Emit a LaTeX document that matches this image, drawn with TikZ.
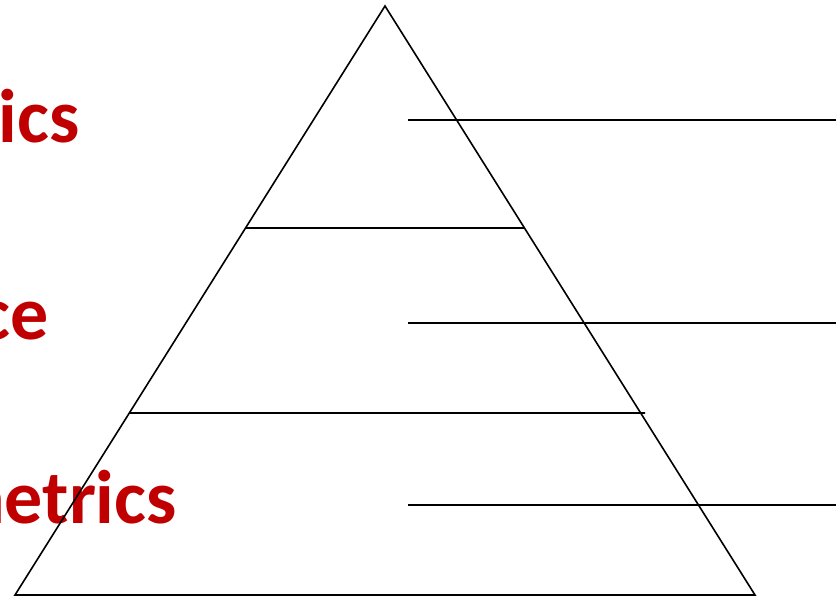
\documentclass[tikz,border=0pt]{standalone}
\usepackage{fontspec}
\setmainfont{Carlito}
\usetikzlibrary{calc}
\definecolor{darkred}{HTML}{C00000}

\begin{document}
\begin{tikzpicture}[
  x=1pt, y=-1pt,
  label/.style={anchor=base east, inner sep=0pt, text=darkred,
    font=\fontsize{76}{80}\selectfont\bfseries},
  edge/.style={line width=1.6pt, black}
]
\useasboundingbox (0,0) rectangle (836,596);
\clip (0,0) rectangle (836,596);
% red labels, cut at the left border
\node[label] (top) at (80,143) {rics};
\node[label] (mid) at (49,339) {ce};
\node[label] (low) at (177,523) {metrics};
% pyramid
\coordinate (apex) at (385,6);
\coordinate (bl) at (15,595);
\coordinate (br) at (755,595);
\draw[edge] (apex) -- (bl) -- (br) -- cycle;
\draw[edge] ($(apex)!0.377!(bl)$) -- ($(apex)!0.377!(br)$);
\draw[edge] ($(apex)!0.691!(bl)$) -- (645,413);
% lines to the right
\draw[edge] (408,120) -- (836,120);
\draw[edge] (408,323) -- (836,323);
\draw[edge] (408,505) -- (836,505);
\end{tikzpicture}
\end{document}
